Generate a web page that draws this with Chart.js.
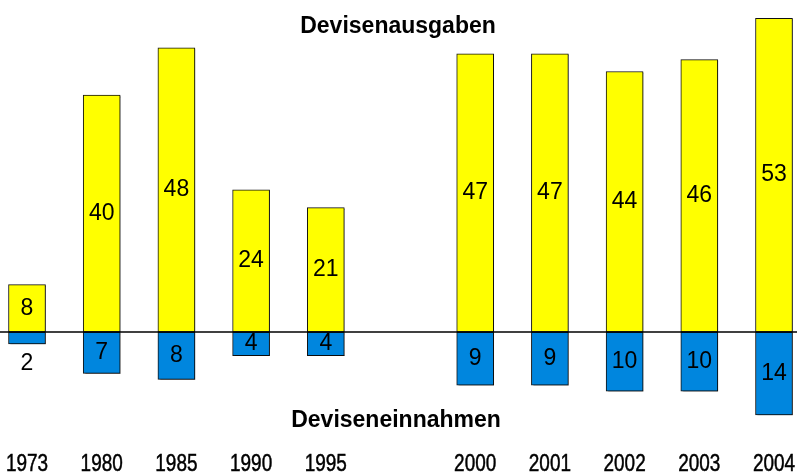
<!DOCTYPE html>
<html>
<head>
<meta charset="utf-8">
<title>Devisenausgaben / Deviseneinnahmen</title>
<script src="https://cdn.jsdelivr.net/npm/chart.js@4"></script>
<style>
    html, body { margin: 0; padding: 0; background: #ffffff; }
    #wrap { width: 797px; height: 472px; }
</style>
</head>
<body>
<div id="wrap"><canvas id="devChart" width="797" height="472"></canvas></div>
<script>
// Jahre (leerer Eintrag = Lücke zwischen 1995 und 2000)
const years = ['1973', '1980', '1985', '1990', '1995', '', '2000', '2001', '2002', '2003', '2004'];
// Devisenausgaben (nach oben)
const ausgaben = [8, 40, 48, 24, 21, null, 47, 47, 44, 46, 53];
// Deviseneinnahmen (nach unten)
const einnahmen = [2, 7, 8, 4, 4, null, 9, 9, 10, 10, 14];

const titleTop = 'Devisenausgaben';
const titleBottom = 'Deviseneinnahmen';

// bar shadow like in the original (small grey offset on right/bottom)
const shadowPlugin = {
    id: 'barShadow',
    beforeDatasetsDraw(chart) {
        const ctx = chart.ctx;
        ctx.save();
        ctx.shadowColor = 'rgba(0,0,0,0.35)';
        ctx.shadowOffsetX = 2;
        ctx.shadowOffsetY = 1;
        ctx.shadowBlur = 0;
    },
    afterDatasetsDraw(chart) {
        chart.ctx.restore();
    }
};

// zero line, value labels, year labels and the two titles
const textPlugin = {
    id: 'texts',
    afterDatasetsDraw(chart) {
        const ctx = chart.ctx;
        const x = chart.scales.x;
        const y = chart.scales.y;
        const y0 = y.getPixelForValue(0);

        ctx.save();
        // zero line
        ctx.strokeStyle = '#000000';
        ctx.lineWidth = 1.5;
        ctx.beginPath();
        ctx.moveTo(0, y0);
        ctx.lineTo(chart.width, y0);
        ctx.stroke();

        // value labels
        ctx.fillStyle = '#000000';
        ctx.font = '23px "Liberation Sans", Arial, sans-serif';
        ctx.textAlign = 'center';
        ctx.textBaseline = 'middle';
        chart.data.datasets.forEach((ds, di) => {
            const meta = chart.getDatasetMeta(di);
            meta.data.forEach((bar, i) => {
                const v = ds.data[i];
                if (v == null) return;
                const h = Math.abs(bar.base - bar.y);
                let ty = (bar.y + bar.base) / 2;
                if (h < 18) {
                    ty = v < 0 ? bar.y + 20 : bar.y - 20;
                }
                ctx.fillText(String(Math.abs(v)), bar.x, ty);
            });
        });

        // year labels, squeezed horizontally (condensed look)
        ctx.font = '24px "Liberation Sans", Arial, sans-serif';
        ctx.textBaseline = 'alphabetic';
        ctx.lineWidth = 0.5;
        years.forEach((lab, i) => {
            if (!lab) return;
            ctx.save();
            ctx.translate(x.getPixelForValue(i), 471);
            ctx.scale(0.79, 1);
            ctx.fillText(lab, 0, 0);
            ctx.strokeText(lab, 0, 0);
            ctx.restore();
        });

        // titles
        ctx.font = 'bold 23px "Liberation Sans", Arial, sans-serif';
        ctx.fillText(titleTop, 398, 33);
        ctx.fillText(titleBottom, 396, 427);
        ctx.restore();
    }
};

const ctx = document.getElementById('devChart').getContext('2d');
const devChart = new Chart(ctx, {
    type: 'bar',
    data: {
        labels: years,
        datasets: [{
            label: titleTop,
            data: ausgaben,
            backgroundColor: '#FFFF00',
            borderColor: '#111111',
            borderWidth: 1,
            borderSkipped: false,
            barThickness: 37,
            clip: false
        }, {
            label: titleBottom,
            data: einnahmen.map(v => v == null ? null : -v),
            backgroundColor: '#0086DE',
            borderColor: '#111111',
            borderWidth: 1,
            borderSkipped: false,
            barThickness: 37,
            clip: false
        }]
    },
    options: {
        responsive: false,
        animation: false,
        layout: {
            padding: { left: 27, right: 23, top: 0, bottom: 0 }
        },
        plugins: {
            legend: { display: false },
            tooltip: { enabled: false }
        },
        scales: {
            x: {
                display: false,
                stacked: true,
                offset: false
            },
            y: {
                display: false,
                stacked: true,
                min: -23.65,
                max: 56.08
            }
        }
    },
    plugins: [shadowPlugin, textPlugin]
});
</script>
</body>
</html>
